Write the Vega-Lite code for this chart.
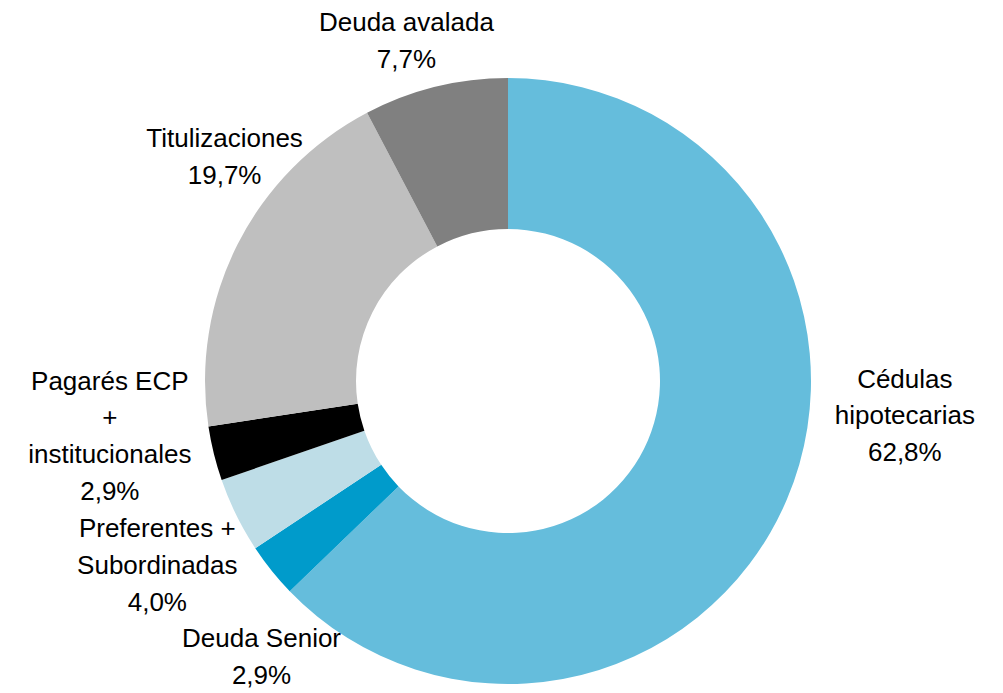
{
  "$schema": "https://vega.github.io/schema/vega-lite/v6.json",
  "width": 990,
  "height": 586,
  "autosize": {"type": "none"},
  "padding": {"left": 13, "top": 88, "right": 0, "bottom": 19},
  "background": "white",
  "view": {"stroke": null},
  "data": {
    "values": [
      {"categoria": "Cédulas hipotecarias", "etiqueta": "Cédulas\nhipotecarias\n62,8%", "valor": 62.8, "orden": 1},
      {"categoria": "Deuda Senior", "etiqueta": "Deuda Senior\n2,9%", "valor": 2.9, "orden": 2},
      {"categoria": "Preferentes + Subordinadas", "etiqueta": "Preferentes +\nSubordinadas\n4,0%", "valor": 4.0, "orden": 3},
      {"categoria": "Pagarés ECP + institucionales", "etiqueta": "Pagarés ECP\n+\ninstitucionales\n2,9%", "valor": 2.9, "orden": 4},
      {"categoria": "Titulizaciones", "etiqueta": "Titulizaciones\n19,7%", "valor": 19.7, "orden": 5},
      {"categoria": "Deuda avalada", "etiqueta": "Deuda avalada\n7,7%", "valor": 7.7, "orden": 6}
    ]
  },
  "transform": [
    {"stack": "valor", "groupby": [], "sort": [{"field": "orden", "order": "ascending"}], "as": ["v0", "v1"]},
    {"calculate": "(datum.v0 + datum.v1) / 2", "as": "mid"}
  ],
  "layer": [
    {
      "mark": {"type": "arc", "innerRadius": 152, "outerRadius": 303},
      "encoding": {
        "theta": {"field": "v0", "type": "quantitative", "scale": {"domain": [0, 100]}},
        "theta2": {"field": "v1"},
        "color": {
          "field": "categoria",
          "type": "nominal",
          "scale": {
            "domain": ["Cédulas hipotecarias", "Deuda Senior", "Preferentes + Subordinadas", "Pagarés ECP + institucionales", "Titulizaciones", "Deuda avalada"],
            "range": ["#65BDDC", "#009BCB", "#BEDDE7", "#000000", "#BFBFBF", "#808080"]
          },
          "legend": null
        }
      }
    },
    {
      "transform": [{"filter": "datum.orden == 1"}],
      "mark": {"type": "text", "radius": 303, "dx": 118, "dy": -120, "font": "Liberation Sans", "fontSize": 26, "lineBreak": "\n", "lineHeight": 36.7, "align": "center", "baseline": "middle", "color": "#000000"},
      "encoding": {"theta": {"field": "mid", "type": "quantitative", "scale": {"domain": [0, 100]}}, "text": {"field": "etiqueta", "type": "nominal"}}
    },
    {
      "transform": [{"filter": "datum.orden == 2"}],
      "mark": {"type": "text", "radius": 303, "dx": -10, "dy": 69, "font": "Liberation Sans", "fontSize": 26, "lineBreak": "\n", "lineHeight": 36.7, "align": "center", "baseline": "middle", "color": "#000000"},
      "encoding": {"theta": {"field": "mid", "type": "quantitative", "scale": {"domain": [0, 100]}}, "text": {"field": "etiqueta", "type": "nominal"}}
    },
    {
      "transform": [{"filter": "datum.orden == 3"}],
      "mark": {"type": "text", "radius": 303, "dx": -79, "dy": 14, "font": "Liberation Sans", "fontSize": 26, "lineBreak": "\n", "lineHeight": 36.7, "align": "center", "baseline": "middle", "color": "#000000"},
      "encoding": {"theta": {"field": "mid", "type": "quantitative", "scale": {"domain": [0, 100]}}, "text": {"field": "etiqueta", "type": "nominal"}}
    },
    {
      "transform": [{"filter": "datum.orden == 4"}],
      "mark": {"type": "text", "radius": 303, "dx": -104, "dy": -72, "font": "Liberation Sans", "fontSize": 26, "lineBreak": "\n", "lineHeight": 36.7, "align": "center", "baseline": "middle", "color": "#000000"},
      "encoding": {"theta": {"field": "mid", "type": "quantitative", "scale": {"domain": [0, 100]}}, "text": {"field": "etiqueta", "type": "nominal"}}
    },
    {
      "transform": [{"filter": "datum.orden == 5"}],
      "mark": {"type": "text", "radius": 303, "dx": -13, "dy": -105, "font": "Liberation Sans", "fontSize": 26, "lineBreak": "\n", "lineHeight": 36.7, "align": "center", "baseline": "middle", "color": "#000000"},
      "encoding": {"theta": {"field": "mid", "type": "quantitative", "scale": {"domain": [0, 100]}}, "text": {"field": "etiqueta", "type": "nominal"}}
    },
    {
      "transform": [{"filter": "datum.orden == 6"}],
      "mark": {"type": "text", "radius": 303, "dx": -29, "dy": -64, "font": "Liberation Sans", "fontSize": 26, "lineBreak": "\n", "lineHeight": 36.7, "align": "center", "baseline": "middle", "color": "#000000"},
      "encoding": {"theta": {"field": "mid", "type": "quantitative", "scale": {"domain": [0, 100]}}, "text": {"field": "etiqueta", "type": "nominal"}}
    }
  ]
}
